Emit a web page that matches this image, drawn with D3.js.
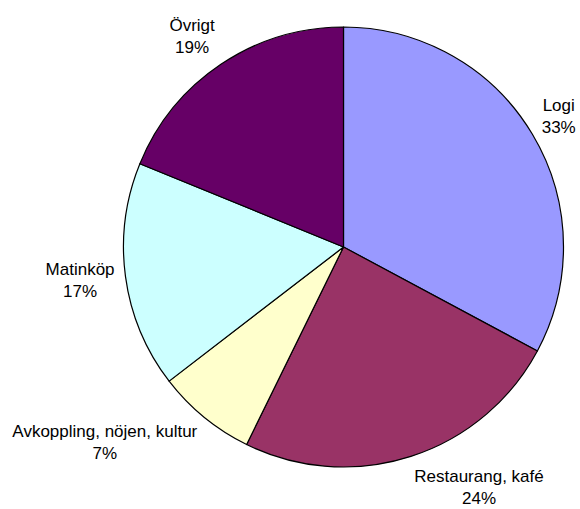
<!DOCTYPE html>
<html>
<head>
<meta charset="utf-8">
<script src="https://cdn.jsdelivr.net/npm/d3@7"></script>
<style>
  html, body { margin: 0; padding: 0; background: #fff; }
  svg { display: block; }
  text { font-family: "Liberation Sans", Arial, sans-serif; font-size: 17px; fill: #000; }
</style>
</head>
<body>
<svg id="chart" width="580" height="509"></svg>
<script>
const categories = ["Logi", "Restaurang, kafé", "Avkoppling, nöjen, kultur", "Matinköp", "Övrigt"];
const values = [32.8, 24.4, 7.3, 16.6, 18.8];
const colors = ["#9999FF", "#993366", "#FFFFCC", "#CCFFFF", "#660066"];

const svg = d3.select("#chart");
const cx = 343.5, cy = 247, r = 220;
const total = d3.sum(values);

const pie = d3.pie().sort(null).value(d => d.v);
const arcs = pie(categories.map((c, i) => ({ c, v: values[i], col: colors[i] })));
const arc = d3.arc().innerRadius(0).outerRadius(r);

const g = svg.append("g").attr("transform", `translate(${cx},${cy})`);
g.selectAll("path.slice").data(arcs).enter().append("path")
  .attr("class", "slice")
  .attr("d", arc)
  .attr("fill", d => d.data.col)
  .attr("stroke", "#000")
  .attr("stroke-width", 1.2)
  .attr("stroke-linejoin", "round");

const labelR = 231, lineH = 22;
arcs.forEach(d => {
  const a = (d.startAngle + d.endAngle) / 2;
  const s = Math.sin(a), c = Math.cos(a);
  const px = s * labelR, py = -c * labelR;
  const t = g.append("text").attr("text-anchor", "middle");
  const l1 = t.append("tspan").text(d.data.c);
  const l2 = t.append("tspan").text(Math.round(d.data.v / total * 100) + "%");
  const w = Math.max(l1.node().getComputedTextLength(), l2.node().getComputedTextLength());
  const h = 2 * lineH;
  const bx = px + Math.sign(s) * w / 2;
  const by = py - c * h / 2;
  l1.attr("x", bx).attr("y", by - lineH / 2 - 1).attr("dy", "0.36em");
  l2.attr("x", bx).attr("y", by + lineH / 2 - 1).attr("dy", "0.36em");
});
</script>
</body>
</html>
